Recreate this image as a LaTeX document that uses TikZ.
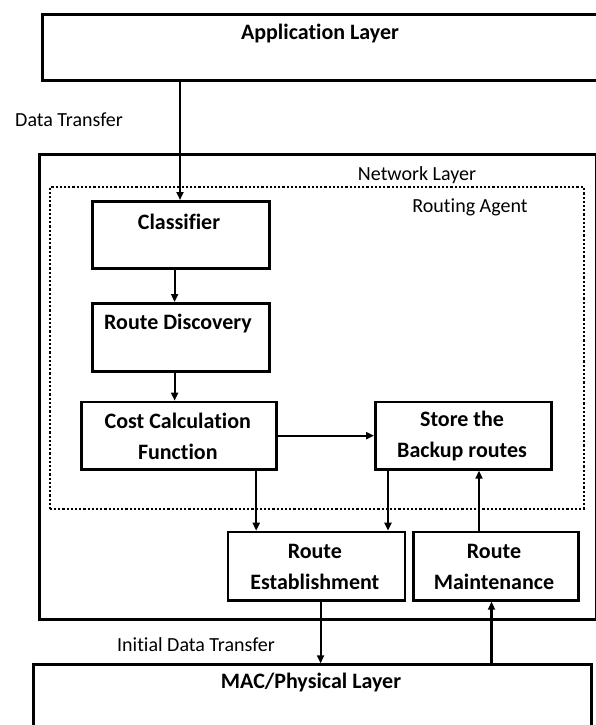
\documentclass[tikz,border=0pt]{standalone}
\usepackage{fontspec}
\setmainfont[Ligatures={NoCommon}]{Carlito}
\usetikzlibrary{arrows.meta,calc}
\begin{document}
\begin{tikzpicture}[x=1pt,y=-1pt,
 box/.style={draw,line width=2.7pt,rectangle,inner sep=0pt,anchor=north west},
 dotbox/.style={draw,line width=2.4pt,dash pattern=on 2.2pt off 2pt,rectangle,inner sep=0pt,anchor=north west},
 bt/.style={font=\bfseries\fontsize{22}{31}\selectfont,inner sep=0pt,align=center},
 lt/.style={font=\fontsize{20}{22}\selectfont,inner sep=0pt},
 arr/.style={line width=2.2pt,-{Triangle[length=8pt,width=7pt]}}]
\useasboundingbox (0,0) rectangle (595,725);
% boxes
\node[box,minimum width=565pt,minimum height=66pt] (app) at (41,13) {};
\node[box,minimum width=556.5pt,minimum height=465pt] (net) at (38,153) {};
\node[dotbox,minimum width=534pt,minimum height=321.7pt] (ra) at (48.6,186) {};
\node[box,minimum width=177pt,minimum height=67pt] (cls) at (91,200) {};
\node[box,minimum width=177pt,minimum height=68pt] (rd) at (91,302) {};
\node[box,minimum width=195pt,minimum height=67.3pt] (cost) at (80,400.7) {};
\node[box,minimum width=176pt,minimum height=67.3pt] (store) at (374,400.7) {};
\node[box,minimum width=177pt,minimum height=68.3pt] (re) at (226.6,530.7) {};
\node[box,minimum width=165pt,minimum height=68.3pt] (rm) at (411.8,530.7) {};
\node[box,minimum width=558pt,minimum height=90pt] (mac) at (32,663.3) {};
% texts
\node[bt] (tapp) at (320,34) {Application Layer};
\node[lt] (tdt) at (69,120) {Data Transfer};
\node[lt] (tnet) at (417,175) {Network Layer};
\node[lt] (tra) at (470,207) {Routing Agent};
\node[bt] (tcls) at (179,222) {Classifier};
\node[bt] (trd) at (178,324) {Route Discovery};
\node[bt] (tcost) at (177.8,436) {Cost Calculation\\Function};
\node[bt] (tstore) at (462,436) {Store the\\Backup routes};
\node[bt] (tre) at (314.8,567) {Route\\Establishment};
\node[bt] (trm) at (494,567) {Route\\Maintenance};
\node[lt] (tidt) at (196,645) {Initial Data Transfer};
\node[bt] (tmac) at (311,683) {MAC/Physical Layer};
% connectors
\coordinate (c0) at ($(cls.north west)+(89,0)$);
\draw[arr] (c0 |- app.south) -- (c0);
\coordinate (c1) at ($(cls.south west)+(83.6,0)$);
\draw[arr] (c1) -- (c1 |- rd.north);
\coordinate (c2) at ($(rd.south west)+(83.6,0)$);
\draw[arr] (c2) -- (c2 |- cost.north);
\draw[arr] (cost.east) -- (store.west);
\coordinate (c3) at ($(cost.south east)+(-21.5,0)$);
\draw[arr] (c3) -- (c3 |- re.north);
\coordinate (c4) at ($(store.south west)+(14,0)$);
\draw[arr] (c4) -- (c4 |- re.north);
\coordinate (c5) at ($(rm.north west)+(67.2,0)$);
\draw[arr] (c5) -- (c5 |- store.south);
\coordinate (c6) at ($(re.south west)+(94,0)$);
\draw[arr] (c6) -- (c6 |- mac.north);
\coordinate (c7) at ($(rm.south west)+(79.7,0)$);
\draw[arr] (c7 |- mac.north) -- (c7);
\end{tikzpicture}
\end{document}
